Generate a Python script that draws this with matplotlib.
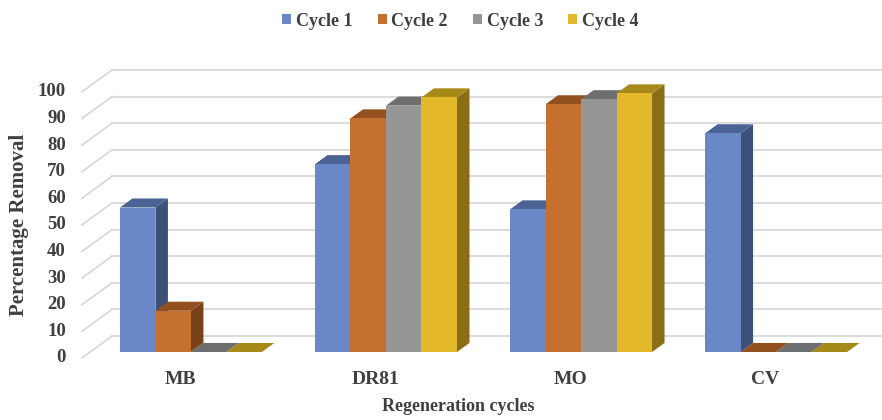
import numpy as np
import matplotlib.pyplot as plt
from matplotlib.patches import Polygon, Patch

# Dados de remoção por ciclo de regeneração
corantes = ["MB", "DR81", "MO", "CV"]
ciclos = ["Cycle 1", "Cycle 2", "Cycle 3", "Cycle 4"]
ciclo1 = [54.3, 70.6, 53.6, 82.2]
ciclo2 = [15.5, 87.8, 93.1, 0]
ciclo3 = [0, 92.6, 95.0, 0]
ciclo4 = [0, 95.7, 97.2, 0]
valores = [ciclo1, ciclo2, ciclo3, ciclo4]
ticks_y = list(range(0, 101, 10))

# Cores (frente, topo, lateral) de cada ciclo
cores = [("#6A87C8", "#4A6394", "#3D5078"),
         ("#C5702F", "#92501F", "#7A421A"),
         ("#969696", "#6E6E6E", "#5E5E5E"),
         ("#E3B82B", "#A68A19", "#8A6D14")]
cor_texto = "#3F3F3F"

plt.rcParams['font.family'] = ['Liberation Serif', 'DejaVu Serif']

fig = plt.figure(figsize=(8.82, 4.2), dpi=100)
ax = fig.add_axes([0, 0, 1, 1])
ax.set_xlim(-0.979, 3.543)
ax.set_ylim(-25.56, 132.3)
ax.axis('off')

largura = 0.182
prof_x, prof_y = 0.064, 3.4      # profundidade da barra
fundo_x, fundo_y = 0.113, 6.0    # parede do fundo
frente_x, frente_y = -0.559, -2.25
parede_x = -0.405

# Grade: linhas no fundo e diagonais na parede esquerda
for t in ticks_y:
    ax.plot([parede_x, 3.6], [t + fundo_y, t + fundo_y], color="#D9D9D9", lw=1.3, zorder=1)
    ax.plot([frente_x, parede_x], [t + frente_y, t + fundo_y], color="#D9D9D9", lw=1.3, zorder=1)
    ax.text(-0.641, t + frente_y, str(t), ha="right", va="center", fontsize=13.5,
            fontweight="bold", color=cor_texto)

# Barras 3D, desenhadas da esquerda para a direita
for i in range(len(corantes)):
    x0 = i - 2 * largura
    for j in range(len(ciclos)):
        v = valores[j][i]
        x = x0 + j * largura
        frente, topo, lado = cores[j]
        z = 2 + i * 4 + j
        ax.add_patch(Polygon([(x + largura, 0), (x + largura + prof_x, prof_y),
                              (x + largura + prof_x, v + prof_y), (x + largura, v)],
                             closed=True, facecolor=lado, edgecolor="none", zorder=z))
        ax.add_patch(Polygon([(x, v), (x + prof_x, v + prof_y),
                              (x + largura + prof_x, v + prof_y), (x + largura, v)],
                             closed=True, facecolor=topo, edgecolor="none", zorder=z))
        if v > 0:
            ax.bar(x, v, width=largura, align="edge", color=frente, edgecolor="none", zorder=z)
    ax.text(i - 0.055, -10.5, corantes[i], ha="center", va="center", fontsize=14,
            fontweight="bold", color=cor_texto)

ax.text(-0.882, 47.9, "Percentage Removal", rotation=90, ha="center", va="center",
        fontsize=15, fontweight="bold", color=cor_texto)
ax.text(1.37, -20.6, "Regeneration cycles", ha="center", va="center",
        fontsize=13, fontweight="bold", color=cor_texto)

handles = [Patch(facecolor=c[0], edgecolor="none") for c in cores]
fig.legend(handles, ciclos, loc="center", bbox_to_anchor=(0.522, 0.95), ncol=4,
           frameon=False, handlelength=0.5, handleheight=0.5, handletextpad=0.25,
           columnspacing=1.4, prop={"size": 13, "weight": "bold"}, labelcolor=cor_texto)

fig.savefig("out.png", dpi=100)
